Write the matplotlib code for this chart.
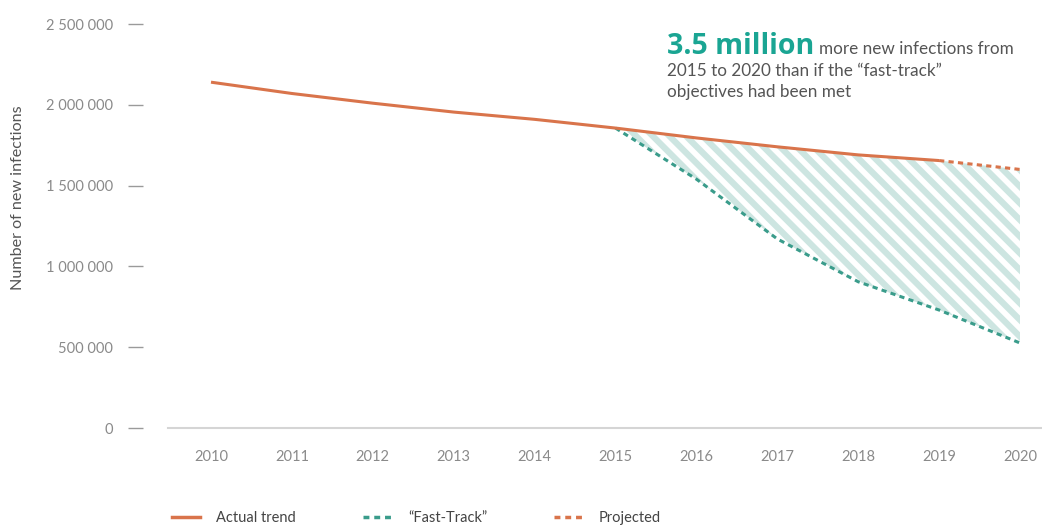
import matplotlib
matplotlib.use("Agg")
import matplotlib.pyplot as plt
from matplotlib.lines import Line2D

# ---- data ----
years = [2010, 2011, 2012, 2013, 2014, 2015, 2016, 2017, 2018, 2019, 2020]
actual_years = [2010, 2011, 2012, 2013, 2014, 2015, 2016, 2017, 2018, 2019]
actual = [2140000, 2070000, 2010000, 1955000, 1910000, 1856000, 1795000, 1740000, 1690000, 1655000]
projected_years = [2019, 2020]
projected = [1655000, 1600000]
fast_years = [2015, 2016, 2017, 2018, 2019, 2020]
fast_track = [1856000, 1540000, 1170000, 905000, 730000, 526000]
upper_gap = [1856000, 1795000, 1740000, 1690000, 1655000, 1600000]
ytick_vals = [0, 500000, 1000000, 1500000, 2000000, 2500000]
ytick_labels = ["0", "500 000", "1 000 000", "1 500 000", "2 000 000", "2 500 000"]
ylabel = "Number of new infections"
legend_labels = ["Actual trend", "\u201cFast-Track\u201d", "Projected"]

ORANGE = "#d9744b"
TEAL = "#3a9c8b"
HATCH = "#cde5e1"
GREY = "#8a8a8a"
DARK = "#555555"

plt.rcParams["font.family"] = ["Lato", "DejaVu Sans"]
plt.rcParams["hatch.linewidth"] = 4.5

W, H = 1042, 527
fig = plt.figure(figsize=(W / 100, H / 100), dpi=100)
ax = fig.add_axes([143 / W, (H - 428) / H, (W - 143) / W, 404 / H])

x0 = 2010 - 68 / 80.9
x1 = 2020 + 22 / 80.9
ax.set_xlim(x0, x1)
ax.set_ylim(0, 2500000)

ax.fill_between(fast_years, fast_track, upper_gap, facecolor="none",
                edgecolor=HATCH, hatch="\\\\", linewidth=0, zorder=1)

dash = (0, (1.7, 1.4))
ax.plot(fast_years, fast_track, color=TEAL, lw=2.2, linestyle=dash, zorder=2)
ax.plot(projected_years, projected, color=ORANGE, lw=2.2, linestyle=dash, zorder=3)
ax.plot(actual_years, actual, color=ORANGE, lw=2.2, solid_capstyle="butt", zorder=4)

for s in ax.spines.values():
    s.set_visible(False)
ax.axhline(0, xmin=(168 - 143) / (W - 143), xmax=1, color="#d5d5d5", lw=1.5, clip_on=False)

ax.set_yticks(ytick_vals)
ax.set_yticklabels(ytick_labels)
ax.set_xticks(years)
ax.set_xticklabels([str(y) for y in years])
ax.tick_params(axis="y", length=15 * 0.72, width=1.0, color="#9a9a9a", pad=15 * 0.72,
               labelsize=10.5, labelcolor=GREY)
ax.tick_params(axis="x", length=0, pad=22 * 0.72, labelsize=10.5, labelcolor=GREY)

fig.text(18 / W, (H - 198) / H, ylabel, rotation=90, ha="center", va="center",
         fontsize=11.6, color=DARK)

# annotation
bx = 667 / W
t1 = fig.text(bx, (H - 54) / H, "3.5 million", fontsize=20.5, fontweight="bold",
              family=["Open Sans", "DejaVu Sans"],
              color="#1aa593", va="baseline", ha="left")
fig.canvas.draw()
bb = t1.get_window_extent()
fig.text((bb.x1 + 5) / W, (H - 54) / H, "more new infections from", fontsize=12.3,
         color=DARK, va="baseline", ha="left")
fig.text(bx, (H - 76) / H, "2015 to 2020 than if the \u201cfast-track\u201d", fontsize=12.3,
         color=DARK, va="baseline", ha="left")
fig.text(bx, (H - 97) / H, "objectives had been met", fontsize=12.3,
         color=DARK, va="baseline", ha="left")

handles = [
    Line2D([], [], color=ORANGE, lw=2.5),
    Line2D([], [], color=TEAL, lw=2.5, linestyle=dash),
    Line2D([], [], color=ORANGE, lw=2.5, linestyle=dash),
]
leg = fig.legend(handles, legend_labels, ncol=3, loc="center left",
                 bbox_to_anchor=(172 / W, 9 / H), frameon=False, borderpad=0,
                 borderaxespad=0, fontsize=10.5, handlelength=1.9, handletextpad=1.15,
                 columnspacing=4.6)
for t in leg.get_texts():
    t.set_color("#444444")

fig.savefig("out.png", dpi=100)
